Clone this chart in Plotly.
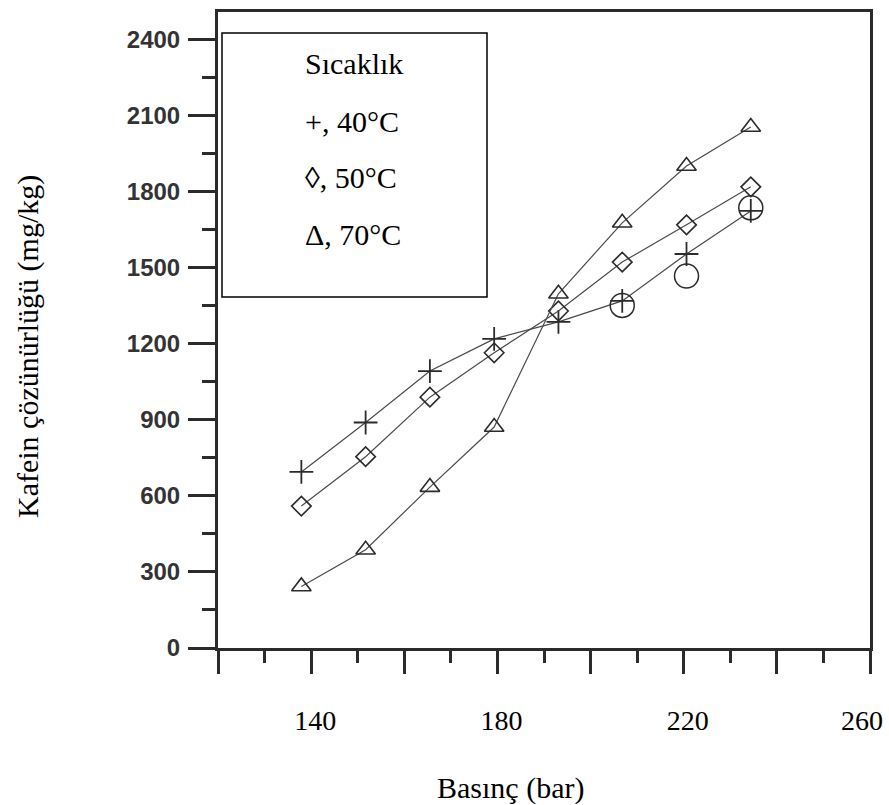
import plotly.graph_objects as go

# Data (pressure in bar, caffeine solubility in mg/kg)
pressure = [137.9, 151.7, 165.5, 179.3, 193.1, 206.8, 220.6, 234.4]
sol_40 = [695, 890, 1093, 1220, 1287, 1370, 1555, 1725]
sol_50 = [560, 755, 990, 1165, 1330, 1523, 1670, 1820]
sol_70 = [243, 388, 635, 872, 1398, 1678, 1902, 2056]
circle_p = [206.8, 220.6, 234.4]
circle_v = [1352, 1468, 1737]

x_ticks = [120, 140, 160, 180, 200, 220, 240, 260]
x_ticktext = ["", "140", "", "180", "", "220", "", ""]
x_last_label = 260
x_minor = [130, 150, 170, 190, 210, 230, 250]
y_ticks = [0, 300, 600, 900, 1200, 1500, 1800, 2100, 2400]
y_minor = [150, 450, 750, 1050, 1350, 1650, 1950, 2250]

legend_lines = ["Sıcaklık", "+, 40°C", "◊, 50°C", "Δ, 70°C"]

W, H = 889, 805
L, R, T, B = 218, 19, 12, 157
PW, PH = W - L - R, H - T - B


def px(xp):
    return (xp - L) / PW


def py(yp):
    return (H - B - yp) / PH


ink = "#2b2b2b"
line_c = "#4a4a4a"
tick_font = dict(family="Liberation Serif", size=28, color="#000")

fig = go.Figure()
fig.add_trace(go.Scatter(x=pressure, y=sol_40, mode="lines+markers",
                         line=dict(color=line_c, width=1.2),
                         marker=dict(symbol="cross-thin", size=17,
                                     line=dict(color=ink, width=1.8)),
                         showlegend=False))
fig.add_trace(go.Scatter(x=pressure, y=sol_50, mode="lines+markers",
                         line=dict(color=line_c, width=1.2),
                         marker=dict(symbol="diamond-open", size=15, color=ink,
                                     line=dict(color=ink, width=1.6)),
                         showlegend=False))
fig.add_trace(go.Scatter(x=pressure, y=sol_70, mode="lines+markers",
                         line=dict(color=line_c, width=1.2),
                         marker=dict(symbol="triangle-up-open", size=17, color=ink,
                                     line=dict(color=ink, width=1.6)),
                         showlegend=False))
fig.add_trace(go.Scatter(x=circle_p, y=circle_v, mode="markers",
                         marker=dict(symbol="circle-open", size=24, color=ink,
                                     line=dict(color=ink, width=1.5)),
                         showlegend=False))

fig.update_xaxes(range=[120, 260], showgrid=False, zeroline=False, automargin=False,
                 showline=True, linewidth=3, linecolor=ink, mirror=True,
                 ticks="outside", ticklen=23, tickwidth=3, tickcolor=ink,
                 tickmode="array", tickvals=x_ticks, ticktext=x_ticktext,
                 ticklabelstandoff=22, ticklabelshift=4,
                 tickfont=tick_font,
                 minor=dict(tickmode="array", tickvals=x_minor,
                            ticks="outside", ticklen=12, tickwidth=3, tickcolor=ink))
fig.update_yaxes(range=[0, 2510], showgrid=False, zeroline=False, automargin=False,
                 showline=True, linewidth=3, linecolor=ink, mirror=True,
                 ticks="outside", ticklen=27, tickwidth=3, tickcolor=ink,
                 tickmode="array", tickvals=y_ticks, ticklabelstandoff=3,
                 tickfont=dict(family="Liberation Sans", size=24, color="#333", weight="bold"),
                 minor=dict(tickmode="array", tickvals=y_minor,
                            ticks="outside", ticklen=13, tickwidth=3, tickcolor=ink))

shapes = [dict(type="rect", xref="paper", yref="paper",
               x0=px(222), x1=px(487), y0=py(297), y1=py(33),
               line=dict(color="#000", width=1.5), fillcolor="white", layer="above")]

annotations = []
for txt, yc in zip(legend_lines, [63, 121, 177, 234]):
    annotations.append(dict(text=txt, xref="paper", yref="paper", x=px(303), y=py(yc),
                            xanchor="left", yanchor="middle", showarrow=False,
                            font=dict(family="Liberation Serif", size=30, color="#000")))
# last x tick label, pulled slightly inside the page edge as in the reference
annotations.append(dict(text=str(x_last_label), xref="x", yref="paper", x=x_last_label,
                        y=py(720), xanchor="center", yanchor="middle", xshift=-8,
                        showarrow=False, font=tick_font))
annotations.append(dict(text="Basınç (bar)", xref="paper", yref="paper", x=px(510), y=py(788),
                        xanchor="center", yanchor="middle", showarrow=False,
                        font=dict(family="Liberation Serif", size=30, color="#000")))
annotations.append(dict(text="Kafein çözünürlüğü (mg/kg)", xref="paper", yref="paper",
                        x=px(28), y=py(347), textangle=-90,
                        xanchor="center", yanchor="middle", showarrow=False,
                        font=dict(family="Liberation Serif", size=30, color="#000")))

fig.update_layout(width=W, height=H, margin=dict(l=L, r=R, t=T, b=B),
                  paper_bgcolor="white", plot_bgcolor="white",
                  shapes=shapes, annotations=annotations)

fig.write_html("out.html")
